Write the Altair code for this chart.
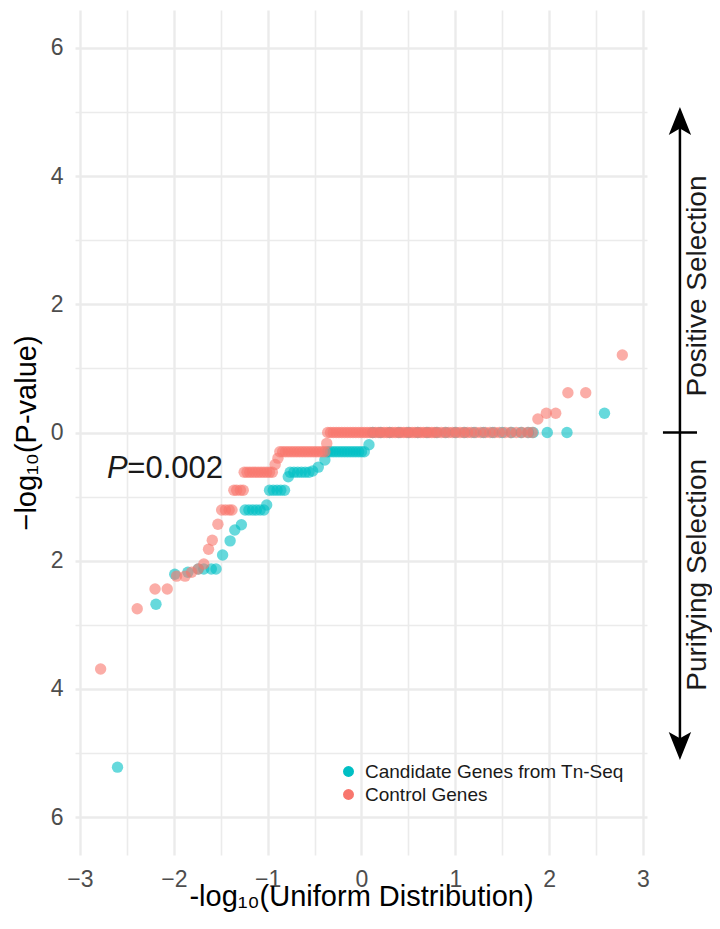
import altair as alt
import pandas as pd

FONT = "Liberation Sans"

# Candidate genes (teal)
cand_x = [-2.60, -2.19, -1.99, -1.85, -1.74, -1.68, -1.60, -1.55, -1.48, -1.40, -1.35, -1.28,
          -1.24, -1.20, -1.16, -1.12, -1.08, -1.04, -1.01,
          -0.98, -0.94, -0.90, -0.86, -0.82, -0.78,
          -0.76, -0.72, -0.68, -0.64, -0.60, -0.56, -0.52, -0.46, -0.39,
          -0.36, -0.33, -0.30, -0.27, -0.24, -0.21, -0.18, -0.15, -0.12, -0.09, -0.06, -0.03, 0.00, 0.03, 0.08,
          0.12, 0.20, 0.30, 0.40, 0.50, 0.60, 0.70, 0.80, 0.90, 1.00, 1.10, 1.20, 1.30, 1.40, 1.50, 1.60, 1.70, 1.78,
          1.83, 1.98, 2.19, 2.59]
cand_y = [-5.22, -2.68, -2.21, -2.18, -2.13, -2.13, -2.13, -2.13, -1.91, -1.69, -1.52, -1.44,
          -1.21, -1.21, -1.21, -1.21, -1.21, -1.21, -1.13,
          -0.90, -0.90, -0.90, -0.90, -0.90, -0.69,
          -0.62, -0.62, -0.62, -0.62, -0.62, -0.62, -0.60, -0.54, -0.43,
          -0.30, -0.30, -0.30, -0.30, -0.30, -0.30, -0.30, -0.30, -0.30, -0.30, -0.30, -0.30, -0.30, -0.30, -0.19,
          0, 0, 0, 0, 0, 0, 0, 0, 0, 0, 0, 0, 0, 0, 0, 0, 0, 0,
          0, 0, 0, 0.30]

# Control genes (salmon)
ctrl_x = [-2.78, -2.39, -2.20, -2.07, -1.97, -1.88, -1.81, -1.74, -1.68, -1.63, -1.59, -1.53,
          -1.49, -1.45, -1.41, -1.38,
          -1.36, -1.33, -1.29, -1.26,
          -1.25, -1.22, -1.19, -1.16, -1.13, -1.10, -1.07, -1.04, -1.01, -0.98, -0.95,
          -0.92, -0.89,
          -0.87, -0.84, -0.81, -0.78, -0.75, -0.72, -0.69, -0.66, -0.63, -0.60, -0.57, -0.54, -0.51,
          -0.48, -0.45, -0.42, -0.39,
          -0.37,
          -0.36, -0.33, -0.30, -0.27, -0.24, -0.21, -0.18, -0.15, -0.12, -0.09, -0.06, -0.03, 0.00,
          0.03, 0.06, 0.09, 0.12, 0.15, 0.18, 0.21, 0.24, 0.27, 0.30, 0.33, 0.36, 0.39, 0.42, 0.45,
          0.48, 0.51, 0.54, 0.57, 0.60, 0.63, 0.66, 0.69, 0.72, 0.75, 0.78, 0.81, 0.85, 0.89, 0.93,
          0.97, 1.01, 1.05, 1.09, 1.13, 1.17, 1.22, 1.27, 1.32, 1.37, 1.42, 1.47, 1.53, 1.59, 1.65,
          1.71, 1.77, 1.82,
          1.88, 1.97, 2.07, 2.20, 2.39, 2.78]
ctrl_y = [-3.69, -2.75, -2.44, -2.44, -2.24, -2.24, -2.18, -2.13, -2.05, -1.82, -1.68, -1.43,
          -1.21, -1.21, -1.21, -1.21,
          -0.90, -0.90, -0.90, -0.90,
          -0.62, -0.62, -0.62, -0.62, -0.62, -0.62, -0.62, -0.62, -0.62, -0.62, -0.62,
          -0.50, -0.40,
          -0.30, -0.30, -0.30, -0.30, -0.30, -0.30, -0.30, -0.30, -0.30, -0.30, -0.30, -0.30, -0.30,
          -0.30, -0.30, -0.30, -0.30,
          -0.17,
          0, 0, 0, 0, 0, 0, 0, 0, 0, 0, 0, 0, 0,
          0, 0, 0, 0, 0, 0, 0, 0, 0, 0, 0, 0, 0, 0, 0,
          0, 0, 0, 0, 0, 0, 0, 0, 0, 0, 0, 0, 0, 0, 0,
          0, 0, 0, 0, 0, 0, 0, 0, 0, 0, 0, 0, 0, 0, 0,
          0, 0, 0,
          0.21, 0.30, 0.30, 0.62, 0.62, 1.21]

groups = ["Candidate Genes from Tn-Seq", "Control Genes"]
colors = ["#00BFC4", "#F8766D"]

# annotation anchors (data coordinates)
p_label_x = [-2.712]
p_rest_x = [-2.495]
p_label_y = [-0.71]
arrow_x = [3.394]
arrow_top = [4.86]
arrow_bottom = [-4.89]
tick_x = [3.213]
tick_x2 = [3.576]
tick_y = [0.0]
side_text_x = [3.59, 3.59]
side_text_y = [2.285, -2.22]
side_text = ["Positive Selection", "Purifying Selection"]

df = pd.DataFrame({
    "x": cand_x + ctrl_x,
    "y": cand_y + ctrl_y,
    "group": [groups[0]] * len(cand_x) + [groups[1]] * len(ctrl_x),
})

xscale = alt.Scale(domain=[-3.053, 3.043], nice=False, zero=False, padding=0)
yscale = alt.Scale(domain=[-6.59, 6.59], nice=False, zero=False, padding=0)

x_vals = [v / 2 for v in range(-6, 7)]
y_vals = list(range(-6, 7))

x_axis = alt.Axis(
    values=x_vals,
    labelExpr="datum.value % 1 == 0 ? format(datum.value, 'd') : ''",
    title="-log₁₀(Uniform Distribution)",
    titleY=50, titleBaseline="alphabetic",
    labelBaseline="alphabetic", labelPadding=31, labelFlush=False, labelOverlap=False,
    gridWidth={"condition": {"test": "datum.value % 1 != 0", "value": 1.6}, "value": 2.4},
)
y_axis = alt.Axis(
    values=y_vals,
    labelExpr="datum.value % 2 == 0 ? format(abs(datum.value), 'd') : ''",
    title="−log₁₀(P-value)",
    titleX=-40, titleBaseline="alphabetic",
    labelPadding=12, labelFlush=False, labelOverlap=False, labelBaseline="middle",
    gridWidth={"condition": {"test": "datum.value % 2 != 0", "value": 1.6}, "value": 2.4},
)

points = alt.Chart(df).mark_circle(size=130, opacity=0.6).encode(
    x=alt.X("x:Q", scale=xscale, axis=x_axis),
    y=alt.Y("y:Q", scale=yscale, axis=y_axis),
    color=alt.Color("group:N", scale=alt.Scale(domain=groups, range=colors),
                    legend=alt.Legend(title=None, orient="none", legendX=264, legendY=752,
                                      labelFontSize=19, labelFont=FONT, labelColor="#1A1A1A",
                                      labelLimit=0,
                                      symbolType="circle", symbolSize=120, symbolOpacity=1,
                                      labelOffset=7, rowPadding=3, padding=0)),
)

def xy(**kw):
    return dict(x=alt.X("x:Q", scale=xscale, axis=x_axis), y=alt.Y("y:Q", scale=yscale, axis=y_axis), **kw)

p_italic = alt.Chart(pd.DataFrame({"x": p_label_x, "y": p_label_y, "t": ["P"]})).mark_text(
    font=FONT, fontSize=31, fontStyle="italic", align="left", baseline="alphabetic", color="#1A1A1A"
).encode(**xy(text="t:N"))
p_rest = alt.Chart(pd.DataFrame({"x": p_rest_x, "y": p_label_y, "t": ["=0.002"]})).mark_text(
    font=FONT, fontSize=31, align="left", baseline="alphabetic", color="#1A1A1A"
).encode(**xy(text="t:N"))

arrow_line = alt.Chart(pd.DataFrame({"x": arrow_x, "y": arrow_top, "y2": arrow_bottom})).mark_rule(
    color="black", strokeWidth=2.5
).encode(**xy(y2="y2:Q"))
tick_line = alt.Chart(pd.DataFrame({"x": tick_x, "x2": tick_x2, "y": tick_y})).mark_rule(
    color="black", strokeWidth=2.5
).encode(**xy(x2="x2:Q"))
head_up = alt.Chart(pd.DataFrame({"x": arrow_x, "y": arrow_top})).mark_point(
    shape="M0,-1L0.8,1L0,0.55L-0.8,1Z", filled=True, size=784, color="black", opacity=1
).encode(**xy())
head_down = alt.Chart(pd.DataFrame({"x": arrow_x, "y": arrow_bottom})).mark_point(
    shape="M0,1L0.8,-1L0,-0.55L-0.8,-1Z", filled=True, size=784, color="black", opacity=1
).encode(**xy())
side = alt.Chart(pd.DataFrame({"x": side_text_x, "y": side_text_y, "t": side_text})).mark_text(
    font=FONT, fontSize=28, angle=270, align="center", baseline="middle", color="#1A1A1A"
).encode(**xy(text="t:N"))

chart = alt.layer(points, p_italic, p_rest, arrow_line, tick_line, head_up, head_down, side).properties(
    width=572, height=845,
    autosize=alt.AutoSizeParams(type="none"),
    padding={"left": 67, "top": 2, "right": 65, "bottom": 60},
    background="white",
).configure_view(stroke=None).configure_axis(
    domain=False, ticks=False, tickSize=0,
    labelFont=FONT, labelFontSize=23, labelColor="#4D4D4D",
    titleFont=FONT, titleFontSize=29, titleColor="#000000", titleFontWeight="normal",
    gridColor="#EBEBEB",
)

chart.save("out.html", embed_options={"renderer": "svg", "actions": False})
